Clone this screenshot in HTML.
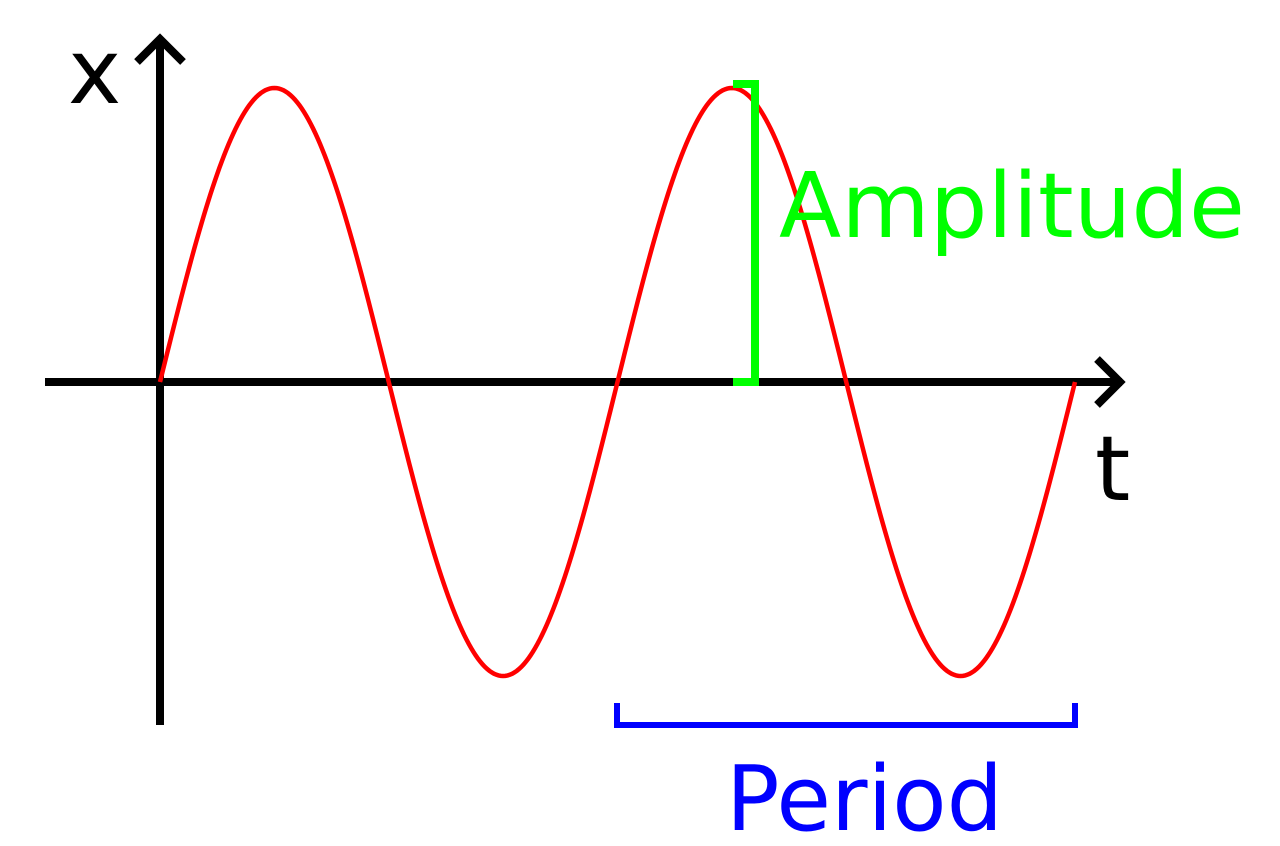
<!DOCTYPE html>
<html>
<head>
<meta charset="utf-8">
<style>
html,body{margin:0;padding:0;background:#fff;}
svg{display:block;}
text{font-family:"DejaVu Sans","Liberation Sans",sans-serif;}
</style>
</head>
<body>
<svg id="chart" width="1280" height="846" viewBox="0 0 1280 846" xmlns="http://www.w3.org/2000/svg">
  <g id="axes" stroke="#000" stroke-width="8" fill="none">
    <line x1="45" y1="382" x2="1122" y2="382"/>
    <polyline points="1097,359 1120,382 1097,405"/>
    <line x1="160" y1="725" x2="160" y2="40"/>
    <polyline points="137,62 160,39 183,62"/>
  </g>
  <path id="wave" fill="none" stroke="#ff0000" stroke-width="4.5"/>
  <g stroke="#00ff00" stroke-width="8" fill="none">
    <polyline points="733,84 755,84 755,382 733,382"/>
  </g>
  <text x="779" y="237" font-size="90" fill="#00ff00" textLength="466" lengthAdjust="spacingAndGlyphs">Amplitude</text>
  <g stroke="#0000ff" stroke-width="6" fill="none">
    <polyline points="617,703 617,725 1075,725 1075,703"/>
  </g>
  <text x="726" y="830" font-size="90" fill="#0000ff" textLength="277" lengthAdjust="spacingAndGlyphs">Period</text>
  <text x="68" y="103" font-size="90" fill="#000">x</text>
  <text x="1095" y="500" font-size="90" fill="#000">t</text>
</svg>
<script>
// wave parameters (data)
const amplitude = [1];
const cycles = [2];
const tRange = [0, 2];      // in periods
const xRange = [-1, 1];

// axis functions
const tx = t => 160 + (t - tRange[0]) / (tRange[1] - tRange[0]) * (1075 - 160);
const yx = v => 382 - (v / xRange[1]) * 294;

const N = 400;
let d = '';
for (let i = 0; i <= N; i++) {
  const t = tRange[0] + (tRange[1] - tRange[0]) * i / N;
  const v = amplitude[0] * Math.sin(2 * Math.PI * t * cycles[0] / tRange[1]);
  d += (i ? 'L' : 'M') + tx(t).toFixed(2) + ',' + yx(v).toFixed(2);
}
document.getElementById('wave').setAttribute('d', d);
</script>
</body>
</html>
